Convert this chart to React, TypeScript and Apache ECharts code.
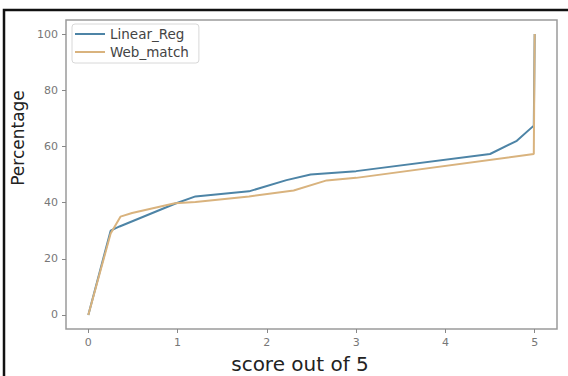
import React, { useEffect, useRef } from "react";
import * as echarts from "echarts";

const seriesNames = ["Linear_Reg", "Web_match"];
const linearX = [0, 0.25, 0.35, 0.97, 1.2, 1.8, 2.22, 2.49, 3.0, 4.5, 4.8, 4.99, 5];
const linearY = [0, 30, 31.5, 39.6, 42.2, 44, 48, 50, 51.2, 57.3, 62, 67.4, 100];
const webX = [0, 0.25, 0.36, 0.49, 0.97, 1.2, 1.8, 2.3, 2.67, 3.0, 4.99, 5];
const webY = [0, 29, 35, 36.3, 39.8, 40.2, 42.2, 44.3, 47.9, 48.8, 57.3, 100];
const xTicks = [0, 1, 2, 3, 4, 5];
const yTicks = [0, 20, 40, 60, 80, 100];
const xTitle = "score out of 5";
const yTitle = "Percentage";

const FONT = "DejaVu Sans";

export default function App() {
  const ref = useRef<HTMLDivElement>(null);
  useEffect(() => {
    if (!ref.current) return;
    const chart = echarts.init(ref.current, null, { renderer: "svg" });
    const zip = (xs: number[], ys: number[]) => xs.map((x, i) => [x, ys[i]]);
    chart.setOption({
      animation: false,
      backgroundColor: "#fff",
      textStyle: { fontFamily: FONT },
      grid: {
        left: 66,
        right: 11,
        top: 20,
        bottom: 47,
        show: true,
        borderColor: "#9a9a9a",
        borderWidth: 1.5,
        backgroundColor: "transparent",
      },
      legend: {
        data: seriesNames,
        orient: "vertical",
        left: 72,
        top: 24,
        icon: "rect",
        itemWidth: 30,
        itemHeight: 2,
        itemGap: 4,
        backgroundColor: "#fff",
        borderColor: "#d8d8d8",
        borderWidth: 1,
        borderRadius: 3,
        padding: [3, 10, 4, 3],
        textStyle: { fontFamily: FONT, fontSize: 13.5, color: "#444" },
      },
      xAxis: {
        type: "value",
        min: -0.25,
        max: 5.25,
        axisLine: { show: false, onZero: false },
        splitLine: { show: false },
        axisTick: {
          show: true,
          customValues: xTicks,
          length: 4,
          lineStyle: { color: "#888" },
        },
        axisLabel: {
          customValues: xTicks,
          fontFamily: FONT,
          fontSize: 11,
          color: "#777",
          margin: 8,
        },
      },
      yAxis: {
        type: "value",
        min: -5,
        max: 105,
        axisLine: { show: false, onZero: false },
        splitLine: { show: false },
        axisTick: {
          show: true,
          customValues: yTicks,
          length: 4,
          lineStyle: { color: "#888" },
        },
        axisLabel: {
          customValues: yTicks,
          fontFamily: FONT,
          fontSize: 11,
          color: "#777",
          margin: 8,
        },
      },
      graphic: [
        {
          type: "text",
          x: 18,
          y: 138,
          rotation: Math.PI / 2,
          style: {
            text: yTitle,
            fontFamily: FONT,
            fontSize: 17,
            fill: "#222",
            textAlign: "center",
            textVerticalAlign: "middle",
          },
        },
        {
          type: "text",
          x: 300,
          y: 364,
          style: {
            text: xTitle,
            fontFamily: FONT,
            fontSize: 20,
            fill: "#222",
            textAlign: "center",
            textVerticalAlign: "middle",
          },
        },
        {
          type: "rect",
          shape: { x: 4, y: 10, width: 600, height: 400 },
          style: { fill: "none", stroke: "#111", lineWidth: 2.5 },
        },
      ],
      series: [
        {
          name: seriesNames[0],
          type: "line",
          data: zip(linearX, linearY),
          symbol: "none",
          lineStyle: { color: "#4d84a6", width: 2 },
          itemStyle: { color: "#4d84a6" },
          z: 2,
        },
        {
          name: seriesNames[1],
          type: "line",
          data: zip(webX, webY),
          symbol: "none",
          lineStyle: { color: "#d9b37e", width: 2 },
          itemStyle: { color: "#d9b37e" },
          z: 3,
        },
      ],
    });
    return () => chart.dispose();
  }, []);
  return (
    <div
      ref={ref}
      style={{ position: "fixed", left: 0, top: 0, width: 568, height: 376 }}
    />
  );
}
